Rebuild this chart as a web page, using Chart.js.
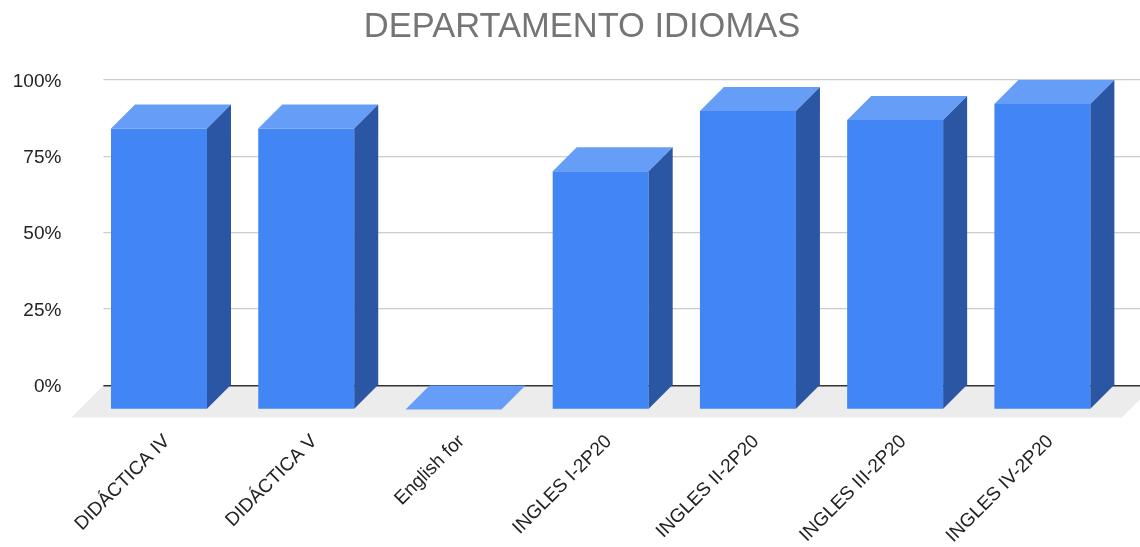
<!DOCTYPE html>
<html>
<head>
<meta charset="utf-8">
<style>
  html, body { margin: 0; padding: 0; background: #fff; }
  canvas { display: block; }
</style>
<script src="https://cdn.jsdelivr.net/npm/chart.js@4"></script>
</head>
<body>
<canvas id="chart" width="1140" height="547"></canvas>
<script>
const categories = ["DIDÁCTICA IV", "DIDÁCTICA V", "English for", "INGLES I-2P20", "INGLES II-2P20", "INGLES III-2P20", "INGLES IV-2P20"];
const percents = [92, 92, 0, 78, 97.7, 94.8, 100];
const yTicks = [0, 25, 50, 75, 100];

// how far the front of a bar sits from the back plane (where the scale is)
const depth = 24;
const floorDepth = 32;

const bars3d = {
  id: "bars3d",
  afterLayout(chart) {
    // title is centred a bit right of the canvas middle
    chart.titleBlock.left = 24;
  },
  beforeDraw(chart) {
    const { ctx, chartArea: a } = chart;
    ctx.save();
    ctx.fillStyle = "#ececec";
    ctx.beginPath();
    ctx.moveTo(a.left - 6, a.bottom);
    ctx.lineTo(a.left - 6 - floorDepth, a.bottom + floorDepth);
    ctx.lineTo(a.right - 18, a.bottom + floorDepth);
    ctx.lineTo(a.right + 14, a.bottom);
    ctx.closePath();
    ctx.fill();
    ctx.restore();
  },
  beforeDatasetDraw(chart) {
    chart.ctx.save();
    chart.ctx.translate(-depth, depth);
  },
  afterDatasetDraw(chart, args) {
    const ctx = chart.ctx;
    ctx.restore();
    args.meta.data.forEach((bar) => {
      const { x, y, base, width } = bar.getProps(["x", "y", "base", "width"], true);
      const left = x - width / 2 - depth;
      const right = x + width / 2 - depth;
      const top = y + depth;
      const bottom = base + depth;

      ctx.fillStyle = "#669df6";
      ctx.beginPath();
      ctx.moveTo(left, top);
      ctx.lineTo(left + depth, top - depth);
      ctx.lineTo(right + depth, top - depth);
      ctx.lineTo(right, top);
      ctx.closePath();
      ctx.fill();

      if (bottom - top > 0) {
        ctx.fillStyle = "#2a56a3";
        ctx.beginPath();
        ctx.moveTo(right, top);
        ctx.lineTo(right + depth, top - depth);
        ctx.lineTo(right + depth, bottom - depth);
        ctx.lineTo(right, bottom);
        ctx.closePath();
        ctx.fill();
      }
    });
  }
};

new Chart(document.getElementById("chart").getContext("2d"), {
  type: "bar",
  data: {
    labels: categories,
    datasets: [{
      data: percents,
      backgroundColor: "#4285f4",
      borderWidth: 0,
      barPercentage: 0.652,
      categoryPercentage: 1,
      clip: false
    }]
  },
  plugins: [bars3d],
  options: {
    responsive: false,
    animation: false,
    plugins: {
      legend: { display: false },
      tooltip: { enabled: false },
      title: {
        display: true,
        text: "DEPARTAMENTO IDIOMAS",
        color: "#757575",
        font: { family: "'Liberation Sans', Arial, sans-serif", size: 34.5, weight: "normal" },
        padding: { top: 7, bottom: 31.6 }
      }
    },
    scales: {
      x: {
        border: { display: false },
        grid: { display: false },
        afterFit(scale) { scale.height = 161.6; },
        ticks: {
          color: "#222",
          font: { family: "'Liberation Sans', Arial, sans-serif", size: 19 },
          autoSkip: false,
          minRotation: 45,
          maxRotation: 45,
          padding: 37,
          labelOffset: -16
        }
      },
      y: {
        min: 0,
        max: 100,
        border: { display: false },
        afterFit(scale) { scale.width = 109.4; },
        afterBuildTicks(scale) { scale.ticks = yTicks.map((value) => ({ value })); },
        grid: {
          color: (c) => (c.tick.value === 0 ? "#333333" : "#cccccc"),
          lineWidth: (c) => (c.tick.value === 0 ? 1.5 : 1.2),
          tickLength: 6
        },
        ticks: {
          color: "#222",
          font: { family: "'Liberation Sans', Arial, sans-serif", size: 19 },
          padding: 42,
          labelOffset: 1.5,
          callback: (v) => v + "%"
        }
      }
    }
  }
});
</script>
</body>
</html>
